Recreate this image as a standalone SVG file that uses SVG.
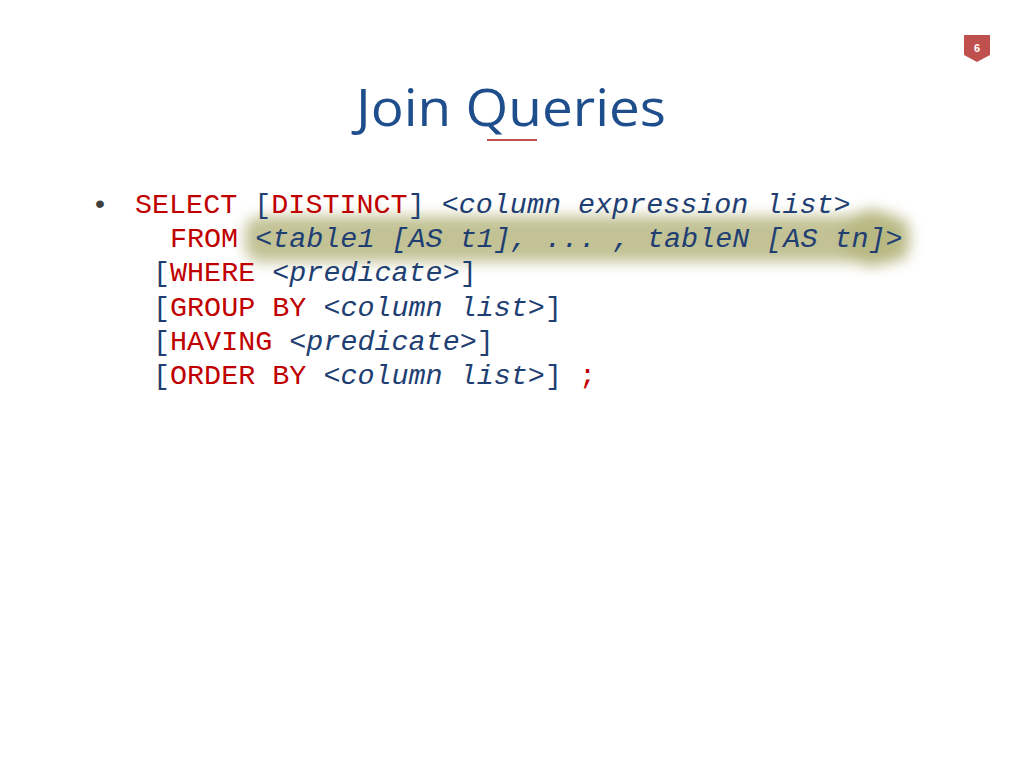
<svg xmlns="http://www.w3.org/2000/svg" width="1024" height="768" viewBox="0 0 1024 768">
<defs>
<filter id="blur" x="-20%" y="-50%" width="140%" height="200%"><feGaussianBlur stdDeviation="7"/></filter>
<style>
.c{font-family:"Liberation Mono","DejaVu Sans Mono",monospace;font-size:28.4px;white-space:pre}
.r{fill:#c00000}.b{fill:#1f3f73}.i{font-style:italic}
</style>
</defs>
<rect width="1024" height="768" fill="#fff"/>
<g id="badge"><path d="M964,35 H990 V55 L977,62 L964,55 Z" fill="#c0504d"/>
<text x="977" y="52" font-family="Liberation Sans,sans-serif" font-size="11" fill="#fff" text-anchor="middle" font-weight="bold">6</text></g>
<g id="title"><text x="511" y="126" font-family="Open Sans,Liberation Sans,sans-serif" font-size="52" fill="#1f4e8c" text-anchor="middle" textLength="310" lengthAdjust="spacingAndGlyphs">Join Queries</text>
<line x1="487" y1="140" x2="537" y2="140" stroke="#c0504d" stroke-width="2"/></g>
<g id="highlight" filter="url(#blur)" opacity="0.6"><rect x="245" y="216" width="665" height="46" rx="16" fill="#9a9a50"/><ellipse cx="872" cy="238" rx="32" ry="28" fill="#8a8a30"/></g>
<g id="code" class="c">
<text x="95" y="213" fill="#404040" style="font-family:Liberation Sans,sans-serif">•</text>
<text x="135" y="213"><tspan class="r">SELECT </tspan><tspan class="b">[</tspan><tspan class="r">DISTINCT</tspan><tspan class="b">] </tspan><tspan class="b i">&lt;column expression list&gt;</tspan></text>
<text x="170" y="247"><tspan class="r">FROM </tspan><tspan class="b i">&lt;table1 [AS t1], ... , tableN [AS tn]&gt;</tspan></text>
<text x="153" y="281"><tspan class="b">[</tspan><tspan class="r">WHERE </tspan><tspan class="b i">&lt;predicate&gt;</tspan><tspan class="b">]</tspan></text>
<text x="153" y="316"><tspan class="b">[</tspan><tspan class="r">GROUP BY </tspan><tspan class="b i">&lt;column list&gt;</tspan><tspan class="b">]</tspan></text>
<text x="153" y="350"><tspan class="b">[</tspan><tspan class="r">HAVING </tspan><tspan class="b i">&lt;predicate&gt;</tspan><tspan class="b">]</tspan></text>
<text x="153" y="384"><tspan class="b">[</tspan><tspan class="r">ORDER BY </tspan><tspan class="b i">&lt;column list&gt;</tspan><tspan class="b">] </tspan><tspan class="r">;</tspan></text>
</g>
</svg>
